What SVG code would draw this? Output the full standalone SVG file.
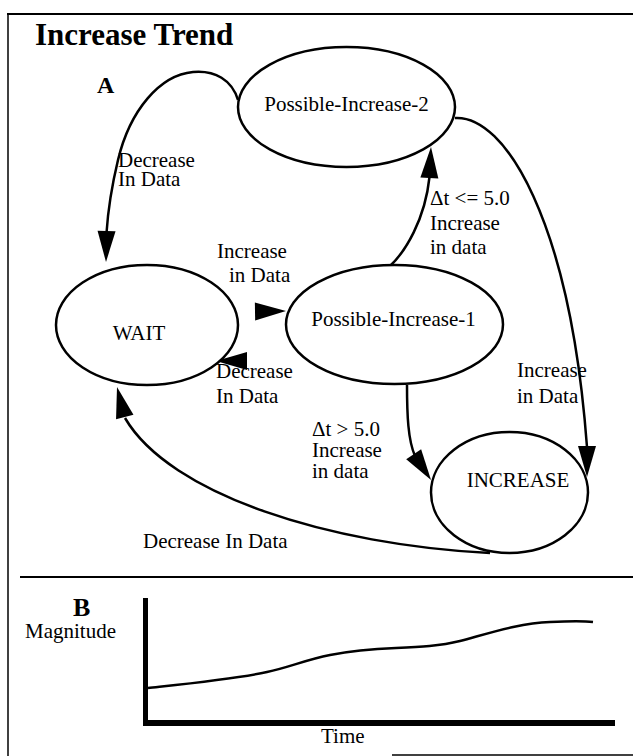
<svg xmlns="http://www.w3.org/2000/svg" xmlns:xlink="http://www.w3.org/1999/xlink" width="633" height="756" viewBox="0 0 633 756">
<style>
  .node { fill: #fff; stroke: #000; stroke-width: 2.5; }
  .edge { fill: none; stroke: #000; stroke-width: 2.5; }
  .frame { stroke: #000; fill: none; }
  text { font-family: 'Liberation Serif', 'Tinos', 'DejaVu Serif', serif; fill: #000; }
  .lbl { font-size: 21px; }
  .title { font-size: 31px; font-weight: bold; }
  .sec { font-weight: bold; }
</style>
<defs>
  <polygon id="ah" points="0,0 -31,-9 -31,9" fill="#000"/>
</defs>
<rect width="633" height="756" fill="#fff"/>

<!-- frame -->
<g id="frame" class="frame">
  <line x1="7" y1="14" x2="633" y2="14" stroke-width="2"/>
  <line x1="8" y1="13" x2="8" y2="756" stroke-width="1.5"/>
  <line x1="20" y1="577" x2="633" y2="577" stroke-width="2"/>
  <line x1="392" y1="755" x2="633" y2="755" stroke-width="1.5"/>
</g>

<g font-family="Liberation Serif, serif">
<text class="title" x="35" y="45">Increase Trend</text>
<text class="sec" x="97" y="93" font-size="24">A</text>

<!-- connectors -->
<g id="connectors">
  <path class="edge" d="M238,100 C232,80 215,70 193,72 C160,75 130,110 118,160 C112,185 108,210 106.5,233"/>
  <use xlink:href="#ah" href="#ah" transform="translate(106,262) rotate(91)"/>

  <path class="edge" d="M390,266 C405,252 425,220 429.5,177"/>
  <use xlink:href="#ah" href="#ah" transform="translate(431,147) rotate(-87)"/>

  <path class="edge" d="M455,118 C505,115 570,220 587,447"/>
  <use xlink:href="#ah" href="#ah" transform="translate(587,477) rotate(90)"/>

  <path class="edge" d="M407,385 C407,415 408,440 415,456"/>
  <use xlink:href="#ah" href="#ah" transform="translate(431,480) rotate(56)"/>

  <path class="edge" d="M490,553 C330,545 170,495 125,418"/>
  <use xlink:href="#ah" href="#ah" transform="translate(117,387) rotate(-104.5)"/>

  <use xlink:href="#ah" href="#ah" transform="translate(286,311) rotate(-1)"/>
  <use xlink:href="#ah" href="#ah" transform="translate(216,361) rotate(180)"/>

  <text class="lbl" x="118" y="167">Decrease</text>
  <text class="lbl" x="118" y="186">In Data</text>

  <text class="lbl" x="430" y="205">Δt &lt;= 5.0</text>
  <text class="lbl" x="430" y="230">Increase</text>
  <text class="lbl" x="430" y="254">in data</text>

  <text class="lbl" x="217" y="258">Increase</text>
  <text class="lbl" x="229" y="282">in Data</text>

  <text class="lbl" x="216" y="378">Decrease</text>
  <text class="lbl" x="216" y="403">In Data</text>

  <text class="lbl" x="517" y="377">Increase</text>
  <text class="lbl" x="517" y="403">in Data</text>

  <text class="lbl" x="312" y="436">Δt &gt; 5.0</text>
  <text class="lbl" x="312" y="457">Increase</text>
  <text class="lbl" x="312" y="478">in data</text>

  <text class="lbl" x="143" y="548">Decrease In Data</text>
</g>

<!-- nodes -->
<g id="node-pi2">
  <ellipse class="node" cx="346.5" cy="107" rx="108.5" ry="60"/>
  <text class="lbl" x="346.5" y="111" text-anchor="middle">Possible-Increase-2</text>
</g>
<g id="node-wait">
  <ellipse class="node" cx="147" cy="325" rx="91" ry="60"/>
  <text class="lbl" x="139" y="340" text-anchor="middle">WAIT</text>
</g>
<g id="node-pi1">
  <ellipse class="node" cx="394.5" cy="324.5" rx="108.5" ry="59.5"/>
  <text class="lbl" x="393.5" y="326" text-anchor="middle">Possible-Increase-1</text>
</g>
<g id="node-increase">
  <ellipse class="node" cx="509.5" cy="492.5" rx="78.5" ry="60.5"/>
  <text class="lbl" x="518" y="487" text-anchor="middle">INCREASE</text>
</g>

<!-- section B -->
<g id="chart">
  <text class="sec" x="73" y="616" font-size="26">B</text>
  <text class="lbl" x="25" y="638">Magnitude</text>
  <line x1="145.5" y1="598" x2="145.5" y2="726" stroke="#000" stroke-width="5"/>
  <line x1="143" y1="723" x2="615" y2="723" stroke="#000" stroke-width="6"/>
  <path class="edge" stroke-width="3" d="M148,688 C175,685 235,679 267,672 C290,667 305,660 330,655 C350,651 370,649 396,648 C420,647 440,646 460,641 C490,633 520,623 550,622 C570,621 585,621 593,622"/>
  <text class="lbl" x="321" y="743">Time</text>
</g>
</g>
</svg>
